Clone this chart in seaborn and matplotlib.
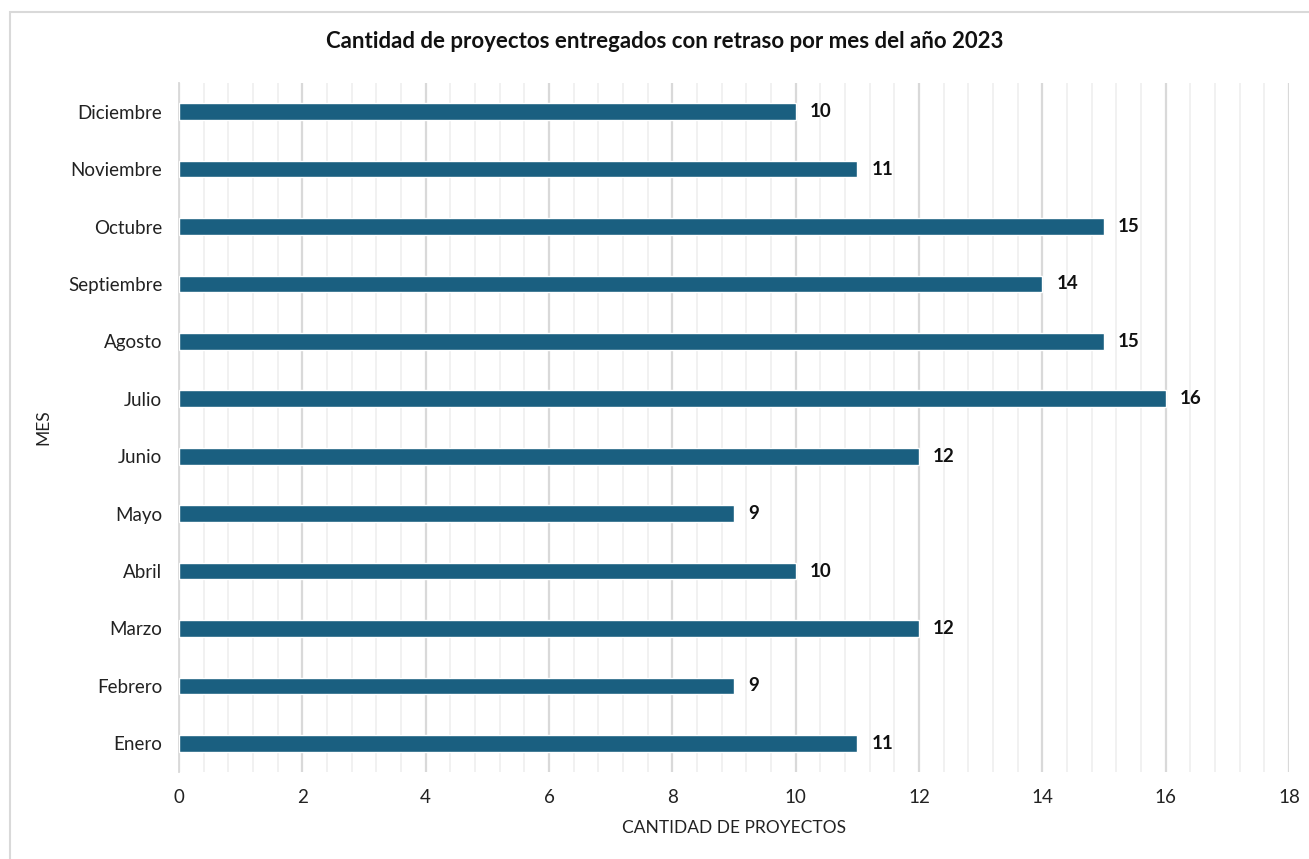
import matplotlib
matplotlib.use("Agg")
import matplotlib.pyplot as plt
import seaborn as sns
import pandas as pd
from matplotlib.ticker import MultipleLocator, FixedLocator
from matplotlib.patches import Rectangle

months = ["Enero", "Febrero", "Marzo", "Abril", "Mayo", "Junio", "Julio",
          "Agosto", "Septiembre", "Octubre", "Noviembre", "Diciembre"]
values = [11, 9, 12, 10, 9, 12, 16, 15, 14, 15, 11, 10]
title = "Cantidad de proyectos entregados con retraso por mes del año 2023"
xlabel = "CANTIDAD DE PROYECTOS"
ylabel = "MES"

sns.set_theme(style="white")
plt.rcParams['font.family'] = ['Lato', 'DejaVu Sans']

df = pd.DataFrame({"mes": months, "cantidad": values})
order = months[::-1]

fig = plt.figure(figsize=(13.09, 8.59), dpi=100)
ax = fig.add_axes([179/1309, 1-772/859, 1110/1309, (772-83)/859])

sns.barplot(data=df, x="cantidad", y="mes", order=order, orient="h",
            color="#1a5f80", saturation=1, width=0.29, ax=ax, zorder=3)

ax.set_xlim(0, 18)
ax.xaxis.set_major_locator(MultipleLocator(2))
ax.xaxis.set_minor_locator(MultipleLocator(0.4))
ax.grid(which="major", axis="x", color="#d9d9d9", linewidth=1.6, zorder=0)
ax.grid(which="minor", axis="x", color="#efefef", linewidth=1.2, zorder=0)
ax.grid(which="both", axis="y", visible=False)
ax.set_axisbelow(True)

for s in ["top", "right", "bottom"]:
    ax.spines[s].set_visible(False)
ax.spines["left"].set_color("#d9d9d9")
ax.spines["left"].set_linewidth(1.3)

ax.tick_params(axis="x", which="both", length=0, labelsize=13.5, colors="#222222", pad=12)
ax.tick_params(axis="y", which="major", length=0, labelsize=13.5, colors="#222222", pad=12)
ax.yaxis.set_minor_locator(FixedLocator([i - 0.5 for i in range(len(months) + 1)]))
ax.tick_params(axis="y", which="minor", length=6, width=1.3, color="#d9d9d9", direction="out")

ax.set_xlabel(xlabel, fontsize=12.5, color="#222222", labelpad=10)
ax.set_ylabel(ylabel, fontsize=12.5, color="#222222", labelpad=12)

for c in ax.containers:
    ax.bar_label(c, padding=10, fontsize=13.5, fontweight="bold", color="#111111")

fig.suptitle(title, x=665/1309, y=1-42/859, va="center", fontsize=16, fontweight="bold", color="#111111")

fig.patches.append(Rectangle((10/1309, -0.1), 1.2, 1-12/859+0.1, transform=fig.transFigure,
                             fill=False, edgecolor="#d9d9d9", linewidth=1.5))

fig.savefig("out.png", dpi=100)
